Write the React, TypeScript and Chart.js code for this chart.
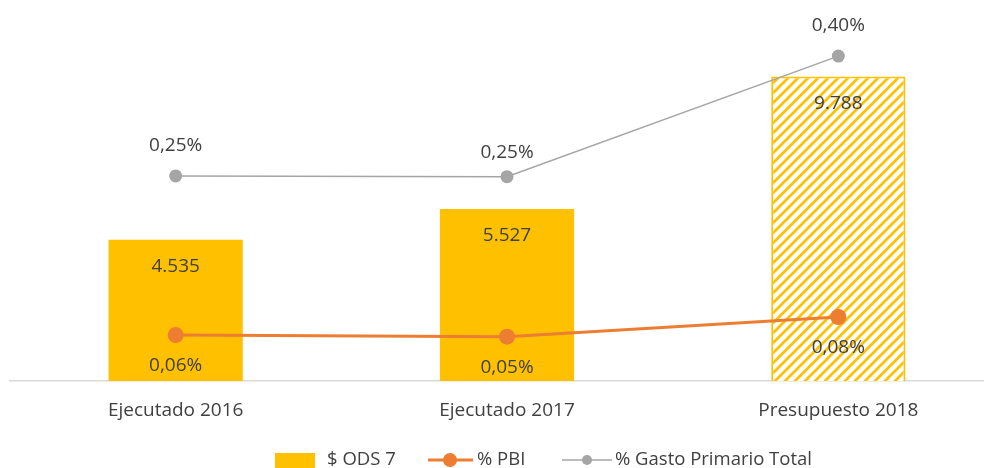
import React, { useEffect, useRef } from "react";
import { Chart, registerables } from "chart.js";

Chart.register(...registerables);

const categories = ["Ejecutado 2016", "Ejecutado 2017", "Presupuesto 2018"];
const ods7 = [4535, 5527, 9788];
const pbi = [0.056, 0.054, 0.078];
const gasto = [0.25, 0.249, 0.396];
const gastoLabelOffsets = [30, 24, 31];
const seriesNames = ["$ ODS 7", "% PBI", "% Gasto Primario Total"];

const FONT = "'Open Sans', sans-serif";
const TEXT = "#404040";
const YELLOW = "#FFC000";
const ORANGE = "#ED7D31";
const GRAY = "#A5A5A5";

function fmtThousands(v: number): string {
  const s = String(Math.round(v));
  return s.replace(/\B(?=(\d{3})+(?!\d))/g, ".");
}
function fmtPct(v: number): string {
  return (Math.round(v * 100) / 100).toFixed(2).replace(".", ",") + "%";
}

function makeHatch(): CanvasPattern | string {
  const c = document.createElement("canvas");
  c.width = 10;
  c.height = 10;
  const g = c.getContext("2d");
  if (!g) return YELLOW;
  g.fillStyle = "#ffffff";
  g.fillRect(0, 0, 10, 10);
  g.strokeStyle = YELLOW;
  g.lineWidth = 2.7;
  g.beginPath();
  g.moveTo(-5, 5);
  g.lineTo(5, -5);
  g.moveTo(0, 10);
  g.lineTo(10, 0);
  g.moveTo(5, 15);
  g.lineTo(15, 5);
  g.stroke();
  return g.createPattern(c, "repeat") || YELLOW;
}

const labelsPlugin = {
  id: "customLabels",
  afterDatasetsDraw(chart: any) {
    const ctx = chart.ctx;
    ctx.save();
    ctx.font = `19px ${FONT}`;
    ctx.fillStyle = TEXT;
    ctx.textAlign = "center";
    ctx.textBaseline = "middle";
    const barMeta = chart.getDatasetMeta(0);
    barMeta.data.forEach((el: any, i: number) => {
      ctx.fillText(fmtThousands(ods7[i]), el.x, el.y + 27);
    });
    const pbiMeta = chart.getDatasetMeta(1);
    pbiMeta.data.forEach((el: any, i: number) => {
      ctx.fillText(fmtPct(pbi[i]), el.x, el.y + 31);
    });
    const gMeta = chart.getDatasetMeta(2);
    gMeta.data.forEach((el: any, i: number) => {
      ctx.fillText(fmtPct(gasto[i]), el.x, el.y - gastoLabelOffsets[i]);
    });
    ctx.restore();
  },
  afterDraw(chart: any) {
    const ctx = chart.ctx;
    ctx.save();
    ctx.font = `18.5px ${FONT}`;
    ctx.textBaseline = "middle";
    ctx.textAlign = "left";
    const y = 452;
    // item 1: box
    ctx.fillStyle = YELLOW;
    ctx.fillRect(267, y - 7, 40, 20);
    ctx.fillStyle = TEXT;
    ctx.fillText(seriesNames[0], 319, y);
    // item 2: orange line + dot
    ctx.strokeStyle = ORANGE;
    ctx.lineWidth = 3;
    ctx.beginPath();
    ctx.moveTo(420, y);
    ctx.lineTo(465, y);
    ctx.stroke();
    ctx.fillStyle = ORANGE;
    ctx.beginPath();
    ctx.arc(442, y, 7, 0, Math.PI * 2);
    ctx.fill();
    ctx.fillStyle = TEXT;
    ctx.fillText(seriesNames[1], 469, y);
    // item 3: gray line + dot
    ctx.strokeStyle = GRAY;
    ctx.lineWidth = 1.5;
    ctx.beginPath();
    ctx.moveTo(554, y);
    ctx.lineTo(604, y);
    ctx.stroke();
    ctx.fillStyle = GRAY;
    ctx.beginPath();
    ctx.arc(579, y, 5, 0, Math.PI * 2);
    ctx.fill();
    ctx.fillStyle = TEXT;
    ctx.fillText(seriesNames[2], 607, y);
    ctx.restore();
  },
};

export default function App() {
  const ref = useRef<HTMLCanvasElement | null>(null);
  useEffect(() => {
    if (!ref.current) return;
    const hatch = makeHatch();
    const chart = new Chart(ref.current, {
      type: "bar",
      data: {
        labels: categories,
        datasets: [
          {
            type: "bar",
            label: seriesNames[0],
            data: ods7,
            backgroundColor: [YELLOW, YELLOW, hatch as any],
            borderColor: YELLOW,
            borderWidth: [0, 0, 2],
            categoryPercentage: 1,
            barPercentage: 0.405,
            yAxisID: "y",
            order: 3,
          } as any,
          {
            type: "line",
            label: seriesNames[1],
            data: pbi,
            borderColor: ORANGE,
            backgroundColor: ORANGE,
            borderWidth: 3,
            pointRadius: 8,
            pointHoverRadius: 8,
            pointBorderWidth: 0,
            yAxisID: "y2",
            order: 1,
          },
          {
            type: "line",
            label: seriesNames[2],
            data: gasto,
            borderColor: GRAY,
            backgroundColor: GRAY,
            borderWidth: 1.5,
            pointRadius: 6.5,
            pointHoverRadius: 6.5,
            pointBorderWidth: 0,
            yAxisID: "y2",
            order: 2,
          },
        ],
      },
      options: {
        animation: false,
        responsive: false,
        maintainAspectRatio: false,
        layout: { autoPadding: false, padding: { left: 2, right: 4, top: 12, bottom: 0 } },
        plugins: {
          legend: { display: false },
          tooltip: { enabled: false },
        },
        scales: {
          x: {
            offset: true,
            grid: { display: false, drawTicks: false },
            border: { display: true, color: "#D9D9D9", width: 1.5 },
            ticks: {
              color: TEXT,
              font: { family: FONT, size: 19 },
              padding: 18,
              maxRotation: 0,
              autoSkip: false,
            },
            afterFit(scale: any) {
              scale.height = 87;
            },
          },
          y: { display: false, min: 0, max: 11600 },
          y2: { display: false, min: 0, max: 0.44 },
        },
      },
      plugins: [labelsPlugin],
    });
    return () => chart.destroy();
  }, []);
  return (
    <div style={{ width: 984, height: 460, overflow: "hidden" }}>
      <div style={{ width: 1000, height: 460 }}>
        <canvas ref={ref} width={1000} height={460} style={{ display: "block" }} />
      </div>
    </div>
  );
}
